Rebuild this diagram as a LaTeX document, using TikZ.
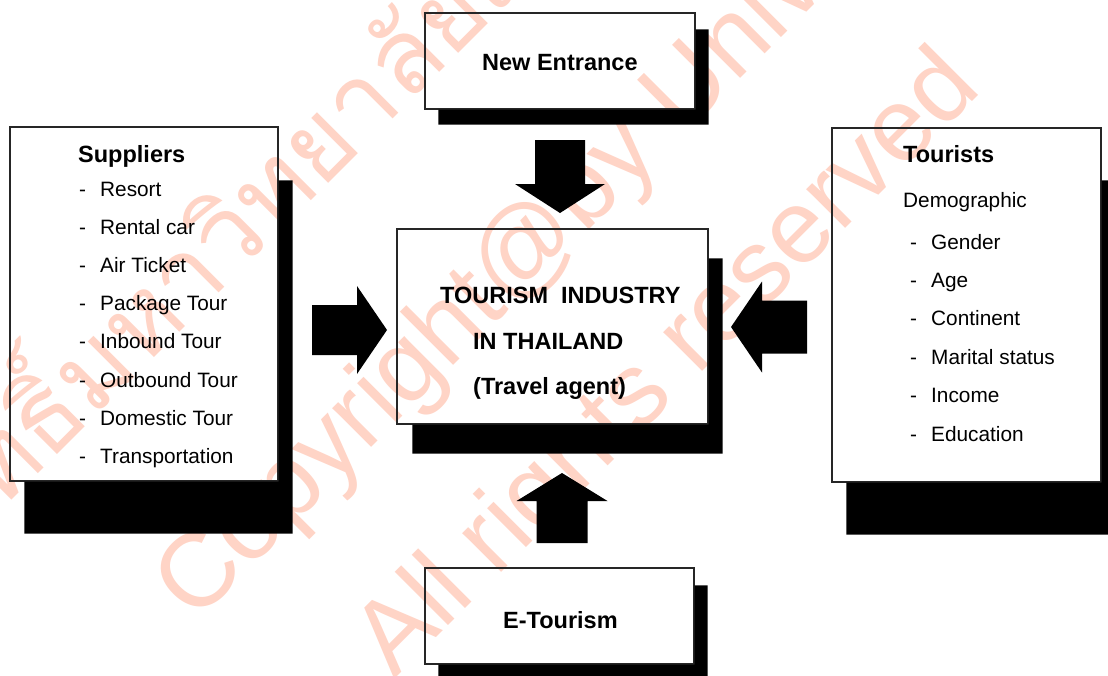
\documentclass[tikz,border=0pt]{standalone}
\usepackage{fontspec}
\setmainfont{Liberation Sans}
\newfontfamily\thaifont[Script=Thai]{Loma}
\usetikzlibrary{calc}

\definecolor{wmred}{RGB}{255,212,198}

\tikzset{
  box/.style={draw=black!85, line width=1.2pt, inner sep=0pt},
  title/.style={font=\fontsize{23.5}{28}\selectfont\bfseries, anchor=base west, inner sep=0pt},
  item/.style={font=\fontsize{20.8}{25}\selectfont, anchor=base west, inner sep=0pt},
  wm/.style={text=wmred, font=\fontsize{104}{124}\selectfont, inner sep=0pt, rotate=45},
}

% black drop shadow: the L-shaped part of the offset rectangle that lies outside the box
% #1 node, #2 right extension, #3 bottom extension, #4 top offset, #5 left offset
\newcommand\dropshadow[5]{%
  \fill ($(#1.north east)+(0,#4)$) -- ($(#1.north east)+(#2,#4)$)
     -- ($(#1.south east)+(#2,#3)$) -- ($(#1.south west)+(#5,#3)$)
     -- ($(#1.south west)+(#5,0)$) -- (#1.south east) -- cycle;}

% block arrow ending at #1, pointing in direction #2 (degrees)
% #3 total length, #4 half shaft width, #5 half head width, #6 head length
\newcommand\blockarrow[6]{%
  \fill[shift={(#1)}, rotate=#2] (0,0) -- (-#6,#5) -- (-#6,#4) -- (-#3,#4)
     -- (-#3,-#4) -- (-#6,-#4) -- (-#6,-#5) -- cycle;}

\begin{document}
\begin{tikzpicture}[x=1pt, y=-1pt]
\useasboundingbox (0,0) rectangle (1108,675);
\clip (0,0) rectangle (1108,675);
\fill[white] (0,0) rectangle (1108,675);

% watermark
\node[wm, anchor=base west] (wmTh) at (-140,652) {\thaifont ลิขสิทธิ์มหาวิทยาลัยเชียงใหม่};
\node[wm, anchor=base west] (wmCp) at (195,624) {Copyright@by University};
\node[wm, anchor=center] (wmAr) at (670,366) {All rights reserved};

% boxes
\node[box, minimum width=270pt, minimum height=96pt]  (ne)   at (560,61)      {};
\node[box, minimum width=311pt, minimum height=195pt] (core) at (552.5,326.5) {};
\node[box, minimum width=268pt, minimum height=354pt] (sup)  at (144,304)     {};
\node[box, minimum width=269pt, minimum height=354pt] (tour) at (966.5,305)   {};
\node[box, minimum width=269pt, minimum height=96pt]  (et)   at (559.5,616)   {};

% shadows
\dropshadow{ne}{13}{15}{17}{14}
\dropshadow{core}{14}{29}{30}{16}
\dropshadow{sup}{14}{52}{54}{15}
\dropshadow{tour}{15}{52}{53}{15}
\dropshadow{et}{13}{15}{18}{14}

% block arrows pointing at the central box
\coordinate (neTip)   at (560,213);
\coordinate (etTip)   at (562,473);
\coordinate (supTip)  at (387,330);
\coordinate (tourTip) at (731,327);
\blockarrow{neTip}{-90}{73}{25}{45}{29}
\blockarrow{etTip}{90}{70}{25.5}{45.5}{28}
\blockarrow{supTip}{0}{75}{25}{44}{30}
\blockarrow{tourTip}{180}{76}{26.5}{45.5}{31}

% labels
\node[title] (neLabel) at (482,70)  {New Entrance};
\node[title] (etLabel) at (503,628) {E-Tourism};
\node[title] (coreA)   at (440,303) {TOURISM\ \ INDUSTRY};
\node[title] (coreB)   at (473,349) {IN THAILAND};
\node[title] (coreC)   at (473,394) {(Travel agent)};

\node[title] (supTitle) at (78,162) {Suppliers};
\foreach \t [count=\i from 0] in {Resort, Rental car, Air Ticket, Package Tour,
    Inbound Tour, Outbound Tour, Domestic Tour, Transportation}{
  \node[item] (supDash\i) at (79,196+38.2*\i) {-};
  \node[item] (supItem\i) at (100,196+38.2*\i) {\t};
}

\node[title] (tourTitle) at (903,162) {Tourists};
\node[item]  (tourSub)   at (903,207) {Demographic};
\foreach \t [count=\i from 0] in {Gender, Age, Continent, Marital status, Income, Education}{
  \node[item] (tourDash\i) at (910,249+38.4*\i) {-};
  \node[item] (tourItem\i) at (931,249+38.4*\i) {\t};
}
\end{tikzpicture}
\end{document}
